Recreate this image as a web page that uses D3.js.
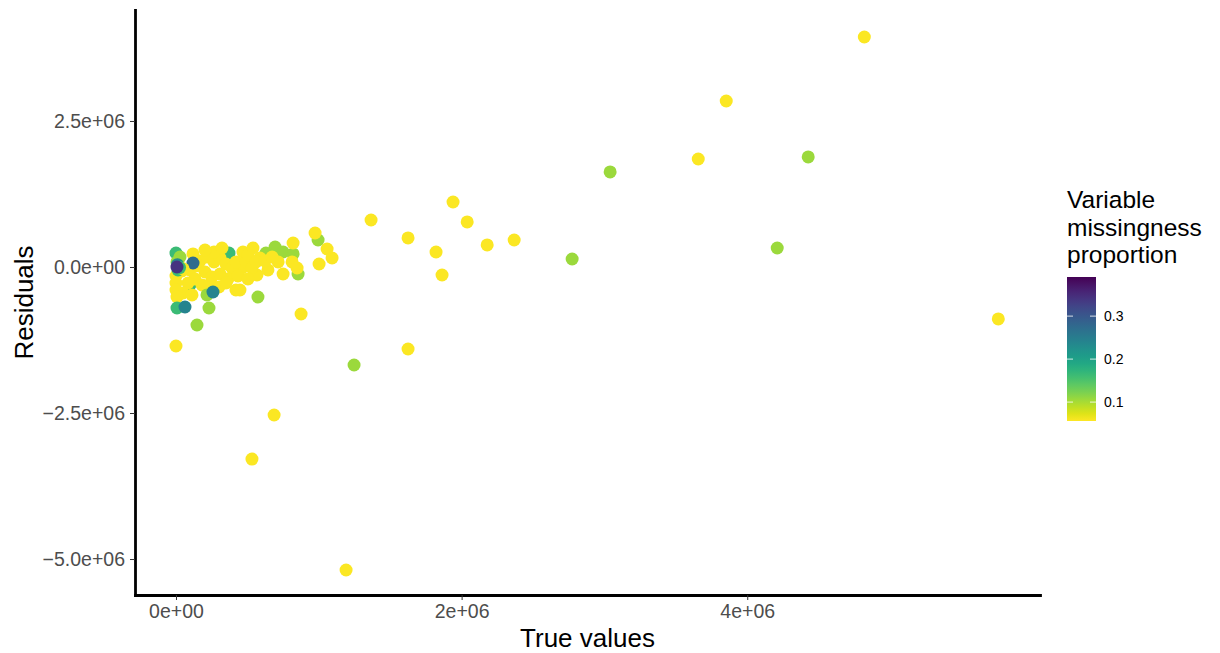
<!DOCTYPE html>
<html>
<head>
<meta charset="utf-8">
<script src="https://cdn.jsdelivr.net/npm/d3@7"></script>
<style>
  body { margin: 0; background: #fff; }
  svg { font-family: "Liberation Sans", Arial, Helvetica, sans-serif; }
  .tick text { fill: #4d4d4d; font-size: 19.5px; }
  .tick line { stroke: #333; }
  .axis-title { font-size: 26px; fill: #000; }
  .legend-title { font-size: 24.5px; fill: #000; }
  .legend-label { font-size: 14px; fill: #000; }
</style>
</head>
<body>
<div id="chart"></div>
<script>
// True values (x)
var trueValues = [
  0.995e6, 0.694e6, 0.750e6, 0.630e6, 0.820e6, 0.855e6, 0.098e6,
  4.820e6, 3.853e6, 3.657e6, 5.758e6, 3.040e6, 4.427e6, 2.774e6, 4.210e6,
  1.940e6, 2.039e6, 1.366e6, 1.625e6, 1.821e6, 2.179e6, 2.368e6, 1.863e6,
  1.625e6, 1.247e6, 1.191e6, 0.687e6, 0.532e6, 0.876e6, 0.000e6, 0.147e6,
  0.231e6, 0.574e6,
  0.974e6, 1.058e6, 1.093e6, 1.002e6, 0.820e6, 0.588e6, 0.469e6, 0.715e6,
  0.813e6, 0.848e6, 0.750e6, 0.567e6, 0.462e6, 0.448e6, 0.420e6,
  0.371e6,
  0.098e6, 0.140e6, 0.168e6, 0.217e6, 0.266e6, 0.308e6, 0.350e6, 0.392e6,
  0.420e6, 0.490e6, 0.532e6, 0.203e6, 0.252e6, 0.308e6, 0.364e6, 0.434e6,
  0.133e6, 0.084e6, 0.182e6, 0.238e6, 0.301e6, 0.350e6, 0.504e6, 0.049e6,
  0.112e6, 0.266e6, 0.322e6, 0.203e6, 0.119e6, 0.504e6, 0.560e6, 0.644e6,
  0.623e6, 0.673e6, 0.539e6, 0.000e6, 0.000e6, 0.000e6, 0.007e6, 0.042e6,
  0.217e6, 0.259e6, 0.007e6, 0.063e6,
  0.000e6, 0.028e6, 0.007e6, 0.014e6, 0.014e6, 0.119e6, 0.010e6,
  0.035e6, 0.050e6, 0.025e6, 0.007e6
];

// Residuals (y)
var residuals = [
  0.462e6, 0.342e6, 0.257e6, 0.240e6, 0.223e6, -0.120e6, -0.308e6,
  3.938e6, 2.842e6, 1.849e6, -0.890e6, 1.627e6, 1.884e6, 0.137e6, 0.325e6,
  1.113e6, 0.771e6, 0.805e6, 0.497e6, 0.257e6, 0.377e6, 0.462e6, -0.137e6,
  -1.404e6, -1.678e6, -5.188e6, -2.534e6, -3.288e6, -0.805e6, -1.353e6, -0.993e6,
  -0.702e6, -0.514e6,
  0.582e6, 0.308e6, 0.154e6, 0.051e6, 0.411e6, 0.154e6, 0.257e6, 0.086e6,
  0.086e6, -0.017e6, -0.120e6, -0.137e6, -0.017e6, -0.394e6, -0.394e6,
  0.240e6,
  -0.051e6, 0.017e6, 0.103e6, 0.171e6, 0.086e6, 0.154e6, 0.051e6, -0.017e6,
  0.086e6, 0.086e6, -0.017e6, -0.086e6, -0.171e6, -0.120e6, -0.205e6, -0.154e6,
  -0.205e6, -0.274e6, -0.308e6, -0.291e6, -0.342e6, -0.274e6, -0.205e6, -0.445e6,
  -0.479e6, 0.257e6, 0.325e6, 0.291e6, 0.223e6, 0.205e6, 0.086e6, -0.051e6,
  0.103e6, 0.171e6, 0.325e6, -0.154e6, -0.274e6, -0.394e6, -0.514e6, -0.068e6,
  -0.479e6, -0.428e6, -0.702e6, -0.685e6,
  0.240e6, 0.171e6, 0.086e6, -0.051e6, 0.017e6, 0.068e6, 0.040e6,
  -0.020e6, -0.030e6, -0.010e6, 0.000e6
];

// Variable missingness proportion (colour)
var missingness = [
  0.106, 0.106, 0.106, 0.106, 0.106, 0.106, 0.163,
  0.058, 0.058, 0.058, 0.058, 0.106, 0.106, 0.106, 0.106,
  0.058, 0.058, 0.058, 0.058, 0.058, 0.058, 0.058, 0.058,
  0.058, 0.106, 0.058, 0.058, 0.058, 0.058, 0.058, 0.106,
  0.106, 0.106,
  0.058, 0.058, 0.058, 0.058, 0.058, 0.058, 0.058, 0.058,
  0.058, 0.058, 0.058, 0.058, 0.058, 0.058, 0.058,
  0.163,
  0.058, 0.058, 0.058, 0.058, 0.058, 0.058, 0.058, 0.058,
  0.058, 0.058, 0.058, 0.058, 0.058, 0.058, 0.058, 0.058,
  0.058, 0.058, 0.058, 0.058, 0.058, 0.058, 0.058, 0.058,
  0.058, 0.058, 0.058, 0.058, 0.058, 0.058, 0.058, 0.058,
  0.058, 0.058, 0.058, 0.058, 0.058, 0.058, 0.058, 0.058,
  0.106, 0.240, 0.163, 0.240,
  0.163, 0.106, 0.106, 0.163, 0.058, 0.274, 0.240,
  0.106, 0.058, 0.163, 0.340
];

// Axis ticks and labels
var xTicks = [0, 2e6, 4e6];
var xTickLabels = ["0e+00", "2e+06", "4e+06"];
var yTicks = [-5e6, -2.5e6, 0, 2.5e6];
var yTickLabels = ["\u22125.0e+06", "\u22122.5e+06", "0.0e+00", "2.5e+06"];
var legendTicks = [0.1, 0.2, 0.3];
var legendTickLabels = ["0.1", "0.2", "0.3"];
var legendTitle = ["Variable", "missingness", "proportion"];

var width = 1220, height = 653;
var panel = { left: 135, right: 1040, top: 10, bottom: 595 };

var svg = d3.select("#chart").append("svg")
  .attr("width", width)
  .attr("height", height);

// Scales (ggplot-style 5% expansion baked into the domains)
var x = d3.scaleLinear().domain([-0.287e6, 6.05e6]).range([panel.left, panel.right]);
var y = d3.scaleLinear().domain([-5.616e6, 4.40e6]).range([panel.bottom, panel.top]);
var colorDomain = [0.056, 0.391];
var color = d3.scaleSequential(function(t) { return d3.interpolateViridis(1 - t); })
  .domain(colorDomain);

// Points
var points = trueValues.map(function(d, i) {
  return { x: d, y: residuals[i], m: missingness[i] };
});

svg.append("g")
  .attr("class", "points")
  .selectAll("circle")
  .data(points)
  .enter()
    .append("circle")
      .attr("cx", function(d) { return x(d.x); })
      .attr("cy", function(d) { return y(d.y); })
      .attr("r", 6.5)
      .attr("fill", function(d) { return color(d.m); });

// Axes
svg.append("g")
  .attr("transform", "translate(0," + panel.bottom + ")")
  .call(d3.axisBottom(x)
    .tickValues(xTicks)
    .tickFormat(function(d, i) { return xTickLabels[i]; })
    .tickSize(5).tickSizeOuter(0).tickPadding(4));

svg.append("g")
  .attr("transform", "translate(" + panel.left + ",0)")
  .call(d3.axisLeft(y)
    .tickValues(yTicks)
    .tickFormat(function(d, i) { return yTickLabels[i]; })
    .tickSize(5).tickSizeOuter(0).tickPadding(5));

svg.selectAll(".domain")
  .attr("stroke", "#000")
  .attr("stroke-width", 2.8)
  .attr("stroke-linecap", "square");
svg.selectAll(".tick text").attr("font-family", null).attr("font-size", null).attr("fill", null);

// Axis titles
svg.append("text")
  .attr("class", "axis-title")
  .attr("x", (panel.left + panel.right) / 2)
  .attr("y", 647)
  .attr("text-anchor", "middle")
  .text("True values");

svg.append("text")
  .attr("class", "axis-title")
  .attr("transform", "translate(33," + (panel.top + panel.bottom) / 2 + ") rotate(-90)")
  .attr("text-anchor", "middle")
  .text("Residuals");

// Legend
var legend = svg.append("g").attr("class", "legend");
var barX = 1067, barW = 29, barTop = 277, barBottom = 421;

legend.selectAll(".legend-title")
  .data(legendTitle)
  .enter()
    .append("text")
      .attr("class", "legend-title")
      .attr("x", barX)
      .attr("y", function(d, i) { return 208 + i * 27.5; })
      .text(function(d) { return d; });

var grad = svg.append("defs").append("linearGradient")
  .attr("id", "viridis-bar")
  .attr("x1", 0).attr("y1", 1).attr("x2", 0).attr("y2", 0);
d3.range(0, 1.0001, 0.05).forEach(function(t) {
  grad.append("stop")
    .attr("offset", t)
    .attr("stop-color", d3.interpolateViridis(1 - t));
});

legend.append("rect")
  .attr("x", barX)
  .attr("y", barTop)
  .attr("width", barW)
  .attr("height", barBottom - barTop)
  .attr("fill", "url(#viridis-bar)");

var ly = d3.scaleLinear().domain(colorDomain).range([barBottom, barTop]);

legendTicks.forEach(function(v, i) {
  legend.append("line")
    .attr("x1", barX).attr("x2", barX + 6)
    .attr("y1", ly(v)).attr("y2", ly(v))
    .attr("stroke", "#fff").attr("stroke-opacity", 0.8).attr("stroke-width", 1);
  legend.append("line")
    .attr("x1", barX + barW - 6).attr("x2", barX + barW)
    .attr("y1", ly(v)).attr("y2", ly(v))
    .attr("stroke", "#fff").attr("stroke-opacity", 0.8).attr("stroke-width", 1);
  legend.append("text")
    .attr("class", "legend-label")
    .attr("x", barX + barW + 8)
    .attr("y", ly(v))
    .attr("dy", "0.35em")
    .text(legendTickLabels[i]);
});
</script>
</body>
</html>
